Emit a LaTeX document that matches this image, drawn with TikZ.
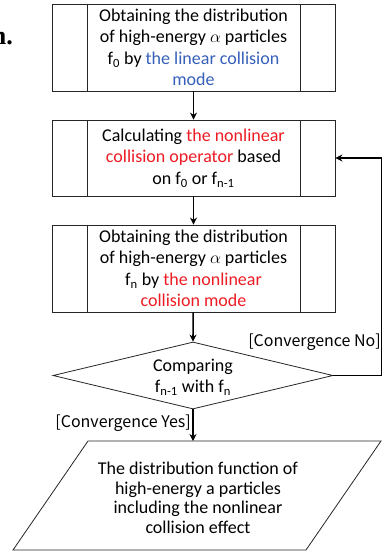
\documentclass[tikz,border=0pt]{standalone}
\usepackage{fontspec}
\setmainfont{Carlito}
\newfontfamily\jpfont{Noto Sans CJK JP}
\newfontfamily\serfont{Liberation Serif}
\usetikzlibrary{arrows.meta,shapes.geometric}
\definecolor{myblue}{RGB}{54,96,186}
\definecolor{myred}{RGB}{237,28,36}
\begin{document}
\begin{tikzpicture}[x=1pt,y=-1pt,
  procbox/.style={draw=black!85, line width=0.8pt, fill=white, minimum width=283pt,
    inner sep=0pt, align=center, font=\fontsize{18}{21.5}\selectfont},
  boxline/.style={draw=black!85, line width=0.8pt},
  txt/.style={align=center, inner sep=0pt, font=\fontsize{18}{21.5}\selectfont},
  lbl/.style={inner sep=0pt, font=\jpfont\fontsize{16}{18}\selectfont},
  flow/.style={line width=1.6pt, -{Stealth[length=7pt,width=7pt]}}]
\useasboundingbox (0,0) rectangle (383,551);
\fill[white] (0,0) rectangle (383,551);

\node[anchor=base east, inner sep=0pt, font=\serfont\bfseries\fontsize{26}{26}\selectfont] (frag) at (13,45) {n.};

\node[procbox, minimum height=87pt] (b1) at (193.5,47.5)
  {Obtaining the distribution\\of high-energy $\alpha$ particles\\f\textsubscript{0} by \textcolor{myblue}{the linear collision}\\\textcolor{myblue}{mode}};
\node[procbox, minimum height=76pt] (b2) at (193.5,158)
  {Calculating \textcolor{myred}{the nonlinear}\\\textcolor{myred}{collision operator} based\\on f\textsubscript{0} or f\textsubscript{n-1}};
\node[procbox, minimum height=87pt] (b3) at (193.5,268.5)
  {Obtaining the distribution\\of high-energy $\alpha$ particles\\f\textsubscript{n} by \textcolor{myred}{the nonlinear}\\\textcolor{myred}{collision mode}};
\foreach \n in {b1,b2,b3}{
  \draw[boxline] ([xshift=36pt]\n.north west) -- ([xshift=36pt]\n.south west);
  \draw[boxline] ([xshift=-35pt]\n.north east) -- ([xshift=-35pt]\n.south east);
}

\node[diamond, draw=black!85, line width=0.8pt, minimum width=280pt, minimum height=67pt,
  inner sep=0pt, aspect=4.18] (d) at (193,375.5) {};
\node[txt] (dt) at (193,377) {Comparing\\f\textsubscript{n-1} with f\textsubscript{n}};

\coordinate (p1) at (88,441);
\coordinate (p2) at (381,441);
\coordinate (p3) at (306,550);
\coordinate (p4) at (13,550);
\draw[boxline] (p1) -- (p2) -- (p3) -- (p4) -- cycle;
\coordinate (ptop) at (193,441);
\node[txt, font=\fontsize{18}{19.5}\selectfont] (out) at (198,498)
  {The distribution function of\\high-energy a particles\\including the nonlinear\\collision effect};

\draw[flow] (b1) -- (b2);
\draw[flow] (b2) -- (b3);
\draw[flow] (b3) -- (d.north);
\draw[flow] (d.south) -- (ptop);
\coordinate (c1) at (381.5,375.5);
\coordinate (c2) at (381.5,158);
\draw[flow] (d.east) -- (c1) -- (c2) -- (b2.east);

\node[lbl, anchor=east] (no) at (381,342) {[Convergence No]};
\node[lbl, anchor=east] (yes) at (191,423) {[Convergence Yes]};
\end{tikzpicture}
\end{document}
